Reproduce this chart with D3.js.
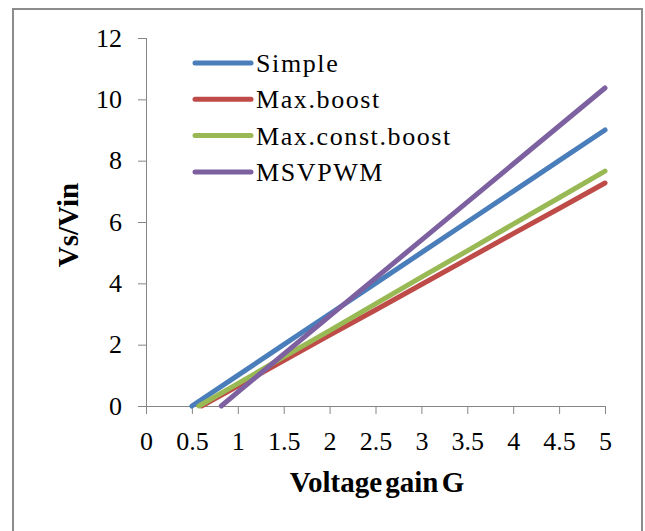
<!DOCTYPE html>
<html>
<head>
<meta charset="utf-8">
<style>
body { margin: 0; background: #fff; }
.axis path, .axis line { stroke: #868686; stroke-width: 1px; }
</style>
</head>
<body>
<svg width="645" height="531"></svg>
<script src="https://cdn.jsdelivr.net/npm/d3@7"></script>
<script>
// x ticks and y ticks
var xTicks = [0, 0.5, 1, 1.5, 2, 2.5, 3, 3.5, 4, 4.5, 5];
var yTicks = [0, 2, 4, 6, 8, 10, 12];

var seriesNames = ["Simple", "Max.boost", "Max.const.boost", "MSVPWM"];
var seriesColors = ["#4a7ebb", "#be4b48", "#98b954", "#7d60a0"];

// voltage gain G / Vs/Vin
var simpleG = [0.5, 1, 1.5, 2, 2.5, 3, 3.5, 4, 4.5, 5];
var simpleV = [0, 1, 2, 3, 4, 5, 6, 7, 8, 9];
var maxBoostG = [0.605, 1, 1.5, 2, 2.5, 3, 3.5, 4, 4.5, 5];
var maxBoostV = [0, 0.65, 1.48, 2.31, 3.13, 3.96, 4.79, 5.62, 6.44, 7.27];
var maxConstG = [0.577, 1, 1.5, 2, 2.5, 3, 3.5, 4, 4.5, 5];
var maxConstV = [0, 0.73, 1.6, 2.46, 3.33, 4.2, 5.06, 5.93, 6.79, 7.66];
var msvpwmG = [0.82, 1, 1.5, 2, 2.5, 3, 3.5, 4, 4.5, 5];
var msvpwmV = [0, 0.45, 1.69, 2.93, 4.17, 5.41, 6.65, 7.89, 9.13, 10.37];

var seriesG = [simpleG, maxBoostG, maxConstG, msvpwmG];
var seriesV = [simpleV, maxBoostV, maxConstV, msvpwmV];

var serif = "Liberation Serif";
var svg = d3.select("svg");

// outer chart frame
svg.append("rect")
    .attr("x", 13).attr("y", 9)
    .attr("width", 629).attr("height", 540)
    .attr("fill", "none")
    .attr("stroke", "#8c8c8c")
    .attr("stroke-width", 2);

var x = d3.scaleLinear().domain([0, 5]).range([146, 605]);
var y = d3.scaleLinear().domain([0, 12]).range([406, 38]);

var xAxis = svg.append("g")
    .attr("class", "axis")
    .attr("transform", "translate(0,406)")
    .call(d3.axisBottom(x).tickValues(xTicks).tickSize(8).tickPadding(18)
        .tickFormat(function(d) { return String(d); }));

var yAxis = svg.append("g")
    .attr("class", "axis")
    .attr("transform", "translate(146,0)")
    .call(d3.axisLeft(y).tickValues(yTicks).tickSize(8).tickPadding(16));

xAxis.select(".domain").attr("d", "M146,0.5H605");
yAxis.select(".domain").attr("d", "M0.5,406V38");
svg.selectAll(".axis text")
    .attr("font-size", 26)
    .attr("font-family", serif)
    .attr("fill", "#000");

// series lines
var line = d3.line()
    .x(function(d) { return x(d[0]); })
    .y(function(d) { return y(d[1]); });

seriesNames.forEach(function(name, i) {
    var pts = seriesG[i].map(function(g, j) { return [g, seriesV[i][j]]; });
    svg.append("path")
        .datum(pts)
        .attr("d", line)
        .attr("fill", "none")
        .attr("stroke", seriesColors[i])
        .attr("stroke-width", 5)
        .attr("stroke-linecap", "round")
        .attr("stroke-linejoin", "round");
});

// legend
var legend = svg.append("g").attr("transform", "translate(195,63)");
seriesNames.forEach(function(name, i) {
    var row = legend.append("g").attr("transform", "translate(0," + (i * 36.3) + ")");
    row.append("line")
        .attr("x1", 0).attr("x2", 56)
        .attr("stroke", seriesColors[i])
        .attr("stroke-width", 5)
        .attr("stroke-linecap", "round");
    row.append("text")
        .attr("x", 61).attr("y", 9)
        .attr("font-family", serif)
        .attr("font-size", 26)
        .attr("letter-spacing", 1.6)
        .text(name);
});

// axis titles
svg.append("text")
    .attr("x", 377).attr("y", 492)
    .attr("text-anchor", "middle")
    .attr("font-family", serif)
    .attr("font-size", 29).attr("font-weight", "bold")
    .attr("word-spacing", -4)
    .text("Voltage gain G");

svg.append("text")
    .attr("transform", "translate(78,225) rotate(-90)")
    .attr("text-anchor", "middle")
    .attr("font-family", serif)
    .attr("font-size", 29).attr("font-weight", "bold")
    .text("Vs/Vin");
</script>
</body>
</html>
